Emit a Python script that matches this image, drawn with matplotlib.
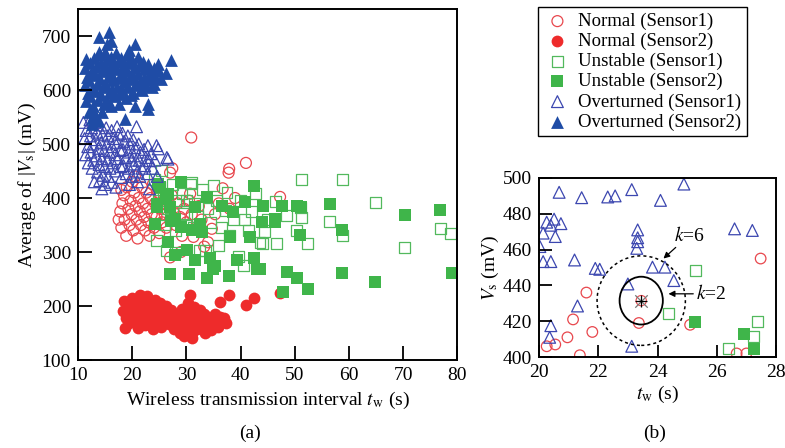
import matplotlib
matplotlib.use("Agg")
import matplotlib.pyplot as plt
from matplotlib.patches import Ellipse

plt.rcParams['font.family'] = ['Liberation Serif', 'DejaVu Serif']
plt.rcParams['mathtext.fontset'] = 'stix'

# ---- panel (a) data : (t_w [s], average |Vs| [mV]) ----
normal_s1 = [
    (17.5, 360), (17.8, 375), (18.0, 345), (18.2, 390), (18.5, 405), (18.6, 360), (18.9, 330),
    (19.0, 420), (19.3, 380), (19.5, 350), (19.7, 395), (19.9, 370), (20.0, 430), (20.2, 340),
    (20.4, 410), (20.6, 385), (20.8, 360), (21.0, 325), (21.2, 400), (21.4, 375), (21.6, 350),
    (21.8, 420), (22.0, 390), (22.2, 365), (22.4, 340), (22.6, 410), (22.8, 380), (23.0, 355),
    (23.2, 330), (23.4, 400), (23.6, 370), (23.8, 425), (24.0, 345), (24.2, 390), (24.5, 365),
    (24.8, 410), (25.0, 335), (25.2, 380), (25.5, 355), (25.8, 395), (26.0, 370), (26.3, 345),
    (26.6, 385), (27.0, 360), (27.3, 405), (27.6, 375), (28.0, 350), (28.4, 390), (28.8, 365),
    (29.2, 330), (29.6, 380), (30.0, 355), (30.5, 395), (31.0, 370), (31.3, 328), (31.8, 345),
    (32.3, 385), (32.8, 360), (33.3, 310), (34.0, 318), (34.7, 343), (35.3, 370), (36.0, 390),
    (36.7, 418), (38.0, 380), (39.0, 400), (27.0, 447), (27.4, 455), (30.9, 512),
    (37.9, 454), (41.0, 465), (37.8, 447), (47.3, 402), (30.7, 408), (29.0, 300), (20.5, 440),
    (18.0, 415), (27.0, 290),
]
normal_s2 = [
    (18.5, 210), (19.2, 200), (18.3, 190), (18.8, 178), (19.5, 168), (18.6, 160), (20.0, 215),
    (20.5, 205), (20.2, 192), (20.8, 182), (20.1, 172), (21.0, 160), (21.5, 220), (21.8, 208),
    (21.3, 196), (22.0, 185), (21.6, 175), (22.3, 165), (22.8, 218), (23.0, 203), (22.6, 192),
    (23.4, 180), (23.1, 170), (23.8, 158), (24.2, 212), (24.5, 198), (24.0, 188), (24.8, 176),
    (24.3, 166), (25.2, 206), (25.5, 192), (25.0, 182), (25.8, 172), (25.4, 162), (26.2, 200),
    (26.5, 186), (26.0, 176), (26.8, 166), (27.2, 192), (27.5, 180), (27.0, 170), (27.8, 158),
    (28.3, 186), (28.5, 172), (28.0, 162), (28.8, 150), (19.8, 186), (21.2, 188), (22.5, 178),
    (23.6, 195), (24.6, 185), (19.0, 205),
    (29.2, 195), (29.5, 180), (29.0, 170), (29.8, 158), (30.3, 205), (30.6, 188), (30.2, 175),
    (30.8, 163), (31.0, 150), (31.5, 198), (31.8, 183), (31.3, 170), (32.0, 158), (32.5, 192),
    (32.8, 178), (32.2, 165), (33.2, 186), (33.5, 172), (33.0, 160), (34.0, 180), (34.3, 168),
    (34.8, 175), (35.2, 185), (35.5, 172), (35.8, 162), (36.3, 180), (36.6, 170), (37.0, 178),
    (37.3, 168), (30.7, 220), (36.2, 207), (37.9, 220), (41.0, 201), (42.5, 214), (47.3, 224),
    (31.0, 140), (33.5, 150), (34.5, 155), (29.5, 145),
]
unstable_s1 = [
    (24.2, 435), (25.4, 451), (25.0, 420), (24.5, 321), (24.8, 395), (25.8, 408), (26.4, 303),
    (26.5, 380), (27.0, 362), (27.5, 425), (28.0, 340), (28.5, 395), (29.2, 408), (29.5, 372),
    (30.0, 350), (30.7, 426), (30.9, 429), (31.3, 346), (31.5, 390), (32.0, 365), (32.5, 303),
    (33.0, 415), (33.5, 303), (34.0, 380), (34.5, 355), (35.0, 423), (35.5, 395), (35.9, 312),
    (36.5, 345), (37.2, 377), (37.5, 410), (38.0, 330), (38.7, 361), (39.6, 291), (40.0, 395),
    (40.5, 275), (40.8, 361), (41.5, 340), (42.0, 375), (42.7, 408), (43.6, 318), (44.1, 315),
    (44.4, 337), (45.0, 360), (46.4, 394), (46.6, 315), (48.5, 368), (50.4, 340), (51.1, 383),
    (51.3, 435), (51.3, 364), (52.4, 315), (56.5, 357), (58.8, 434), (58.8, 331), (64.9, 392),
    (70.3, 308), (76.9, 344), (78.8, 335), (28.0, 300), (30.0, 395), (26.0, 350),
]
unstable_s2 = [
    (24.8, 426), (29.1, 429), (25.1, 420), (26.7, 408), (26.3, 398), (24.5, 389), (24.5, 383),
    (27.0, 383), (31.6, 383), (33.8, 401), (36.5, 386), (40.8, 392), (42.4, 423), (44.2, 386),
    (47.6, 386), (50.4, 386), (51.1, 383), (56.5, 389), (70.4, 368), (76.9, 377), (38.7, 374),
    (43.9, 355), (46.4, 355), (46.4, 361), (24.2, 352), (27.9, 361), (27.2, 358), (29.1, 346),
    (32.5, 352), (31.0, 340), (32.8, 337), (38.1, 328), (41.8, 328), (51.0, 331), (58.8, 340),
    (26.7, 318), (27.9, 294), (30.1, 303), (31.6, 285), (34.4, 288), (35.3, 275), (39.3, 285),
    (42.4, 288), (27.0, 260), (30.4, 260), (33.8, 251), (37.8, 255), (43.0, 269), (35.0, 269),
    (48.5, 263), (50.4, 251), (52.4, 232), (47.9, 226), (58.8, 262), (64.9, 244), (79.0, 261),
    (43.6, 268),
]
overturned_s1 = [
    (11.0, 540), (11.5, 525), (11.2, 510), (11.8, 495), (11.4, 480), (11.9, 465), (12.2, 545),
    (12.5, 530), (12.3, 515), (12.8, 500), (12.4, 485), (12.9, 470), (12.6, 455), (13.2, 540),
    (13.5, 522), (13.3, 508), (13.8, 492), (13.4, 478), (13.9, 462), (13.6, 448), (14.0, 432),
    (14.2, 535), (14.5, 518), (14.3, 503), (14.8, 488), (14.4, 473), (14.9, 458), (14.6, 442),
    (14.4, 417), (15.2, 530), (15.5, 515), (15.3, 500), (15.8, 485), (15.4, 470), (15.9, 455),
    (15.6, 440), (16.2, 429), (16.2, 525), (16.5, 510), (16.3, 495), (16.8, 480), (16.4, 465),
    (16.9, 450), (17.2, 532), (17.5, 518), (17.3, 503), (17.8, 488), (17.4, 473), (17.9, 458),
    (18.0, 438), (18.2, 520), (18.5, 505), (18.3, 490), (18.8, 475), (18.4, 460), (18.9, 445),
    (19.2, 515), (19.5, 500), (19.3, 485), (19.8, 470), (19.4, 455), (19.9, 440), (20.2, 508),
    (20.5, 493), (20.3, 478), (20.8, 532), (20.4, 463), (20.9, 448), (21.2, 500), (21.5, 485),
    (21.3, 470), (21.8, 455), (21.4, 440), (22.2, 490), (22.5, 475), (22.3, 460), (22.9, 497),
    (22.8, 445), (23.2, 469), (23.2, 417), (23.5, 482), (23.8, 455), (24.5, 497), (24.8, 491),
    (24.2, 470), (24.6, 440), (26.4, 475), (26.6, 472), (13.0, 430), (15.0, 425), (17.0, 420),
    (19.5, 425), (21.0, 430),
]
overturned_s2 = [
    (15.7, 708), (13.8, 698), (15.4, 686), (20.5, 686), (13.8, 671), (11.5, 657), (27.2, 655),
    (26.3, 632), (24.8, 648), (21.7, 602), (22.9, 565), (20.5, 571), (18.6, 546), (12.8, 561),
    (12.5, 549), (13.7, 543), (12.5, 537), (23.0, 575), (16.0, 690), (19.5, 675),
    (11.2, 640), (11.6, 625), (11.3, 610), (11.8, 595), (11.5, 580), (12.2, 650), (12.4, 632),
    (12.0, 618), (12.6, 602), (12.3, 588), (12.8, 570), (13.0, 660), (13.3, 642), (13.1, 628),
    (13.5, 612), (13.2, 598), (13.6, 582), (14.0, 665), (14.2, 650), (14.4, 636), (14.1, 620),
    (14.6, 605), (14.3, 590), (14.8, 575), (15.0, 670), (15.3, 655), (15.1, 640), (15.5, 625),
    (15.2, 610), (15.7, 595), (15.4, 580), (16.0, 662), (16.3, 648), (16.1, 632), (16.5, 618),
    (16.2, 602), (16.7, 588), (17.0, 668), (17.3, 652), (17.1, 638), (17.5, 622), (17.2, 606),
    (17.7, 592), (18.0, 660), (18.3, 645), (18.1, 630), (18.5, 615), (18.2, 600), (18.8, 585),
    (19.0, 665), (19.3, 650), (19.1, 635), (19.5, 620), (19.2, 605), (19.8, 590), (20.0, 655),
    (20.3, 640), (20.1, 625), (20.5, 610), (20.2, 595), (21.0, 662), (21.3, 645), (21.1, 630),
    (21.5, 615), (21.8, 600), (22.0, 652), (22.3, 638), (22.1, 622), (22.5, 608), (23.0, 648),
    (23.3, 632), (23.1, 618), (23.6, 605), (24.0, 640), (24.3, 625), (24.1, 612), (25.0, 635),
    (25.3, 620), (12.0, 560), (13.0, 555), (14.5, 560), (16.0, 570), (17.5, 575), (13.5, 548),
]

# ---- panel (b) data : zoom around the test point ----
zoom_normal_s1 = [(21.6, 436), (21.15, 421), (20.96, 411), (21.8, 414), (20.55, 407),
                  (20.26, 406), (23.37, 419), (25.1, 418), (27.48, 455), (21.38, 401),
                  (26.67, 402), (27.0, 402)]
zoom_unstable_s1 = [(25.27, 448.5), (24.38, 424.5), (27.38, 420), (27.25, 411.6), (26.39, 404.7)]
zoom_unstable_s2 = [(25.27, 419.3), (26.93, 413), (27.26, 404.3)]
zoom_overturned_s1 = [
    (20.68, 492), (21.44, 489), (22.32, 489.4), (22.57, 490), (23.13, 493.5), (24.1, 487.5),
    (24.89, 496.6), (20.26, 475.3), (20.51, 477), (20.4, 473.6), (20.74, 474.5), (20.14, 469.2),
    (20.55, 467.3), (20.03, 461.7), (20.14, 453.3), (20.4, 453.3), (21.2, 454.2), (21.9, 449.5),
    (22.05, 449), (23.33, 471), (23.33, 466.6), (23.33, 464.4), (23.3, 460.7), (23.83, 450.2),
    (24.25, 450.2), (24.55, 442.7), (23.0, 440.8), (21.3, 428.5), (20.4, 417.5), (20.36, 411),
    (23.13, 406), (26.6, 471.6), (27.2, 470.7),
]
test_point = (23.45, 431.5)
radius_k2 = (1.46, 26.7)   # ellipse width / height in data units
radius_k6 = (2.98, 50.0)

red = '#ee2b2b'
green = '#3fb54a'
blue = '#1f4ca6'
red_l = '#e8474d'
green_l = '#52b95d'
blue_l = '#3c47b0'

fig = plt.figure(figsize=(7.85, 4.48), dpi=100)
ax = fig.add_axes([0.0994, 0.1964, 0.483, 0.7835])
axb = fig.add_axes([0.6866, 0.2031, 0.302, 0.3996])


def xs(pts):
    return [p[0] for p in pts]


def ys(pts):
    return [p[1] for p in pts]


lw = 0.9
h1 = ax.scatter(xs(normal_s1), ys(normal_s1), s=62, marker='o', facecolors='none',
                edgecolors=red_l, linewidths=lw, label='Normal (Sensor1)')
h2 = ax.scatter(xs(normal_s2), ys(normal_s2), s=72, marker='o', color=red,
                linewidths=0, label='Normal (Sensor2)')
h3 = ax.scatter(xs(unstable_s1), ys(unstable_s1), s=62, marker='s', facecolors='none',
                edgecolors=green_l, linewidths=lw, label='Unstable (Sensor1)')
h4 = ax.scatter(xs(unstable_s2), ys(unstable_s2), s=68, marker='s', color=green,
                linewidths=0, label='Unstable (Sensor2)')
h5 = ax.scatter(xs(overturned_s1), ys(overturned_s1), s=72, marker='^', facecolors='none',
                edgecolors=blue_l, linewidths=lw, label='Overturned (Sensor1)')
h6 = ax.scatter(xs(overturned_s2), ys(overturned_s2), s=85, marker='^', color=blue,
                linewidths=0, label='Overturned (Sensor2)')

ax.set_xlim(10, 80)
ax.set_ylim(100, 750)
ax.set_xticks(range(10, 81, 10))
ax.set_yticks(range(100, 701, 100))
ax.set_xlabel('Wireless transmission interval $t_\\mathrm{w}$ (s)', fontsize=14, labelpad=4)
ax.set_ylabel('Average of |$V_\\mathrm{s}$| (mV)', fontsize=14, labelpad=3)

# panel (b)
axb.scatter(xs(zoom_normal_s1), ys(zoom_normal_s1), s=58, marker='o', facecolors='none',
            edgecolors=red_l, linewidths=lw)
axb.scatter(xs(zoom_unstable_s1), ys(zoom_unstable_s1), s=62, marker='s', facecolors='none',
            edgecolors=green_l, linewidths=lw)
axb.scatter(xs(zoom_unstable_s2), ys(zoom_unstable_s2), s=64, marker='s', color=green,
            linewidths=0)
axb.scatter(xs(zoom_overturned_s1), ys(zoom_overturned_s1), s=72, marker='^',
            facecolors='none', edgecolors=blue_l, linewidths=lw)
axb.add_patch(Ellipse(test_point, radius_k2[0], radius_k2[1], fill=False,
                      edgecolor='black', linewidth=1.3))
axb.add_patch(Ellipse(test_point, radius_k6[0], radius_k6[1], fill=False,
                      edgecolor='black', linewidth=1.1, linestyle=(0, (2, 2))))
axb.scatter([test_point[0]], [test_point[1]], s=55, marker='o', facecolors='none',
            edgecolors=red_l, linewidths=0.8)
axb.scatter([test_point[0]], [test_point[1]], s=80, marker='x', color='#777777',
            linewidths=0.9)
axb.scatter([test_point[0]], [test_point[1]], s=80, marker='+', color='black',
            linewidths=0.9)
axb.annotate('$k$=6', xy=(24.2, 455), xytext=(24.55, 465), fontsize=14,
             arrowprops=dict(arrowstyle='-|>', color='black', lw=0.9,
                             mutation_scale=9, shrinkA=0, shrinkB=0))
axb.annotate('$k$=2', xy=(24.37, 435.3), xytext=(25.3, 435.3), fontsize=14,
             va='center',
             arrowprops=dict(arrowstyle='-|>', color='black', lw=0.9,
                             mutation_scale=9, shrinkA=0, shrinkB=0))
axb.set_xlim(20, 28)
axb.set_ylim(400, 500)
axb.set_xticks(range(20, 29, 2))
axb.set_yticks(range(400, 501, 20))
axb.set_xlabel('$t_\\mathrm{w}$ (s)', fontsize=14, labelpad=2)
axb.set_ylabel('$V_\\mathrm{s}$ (mV)', fontsize=14, labelpad=1)

for a, ln in ((ax, 10), (axb, 9)):
    a.tick_params(direction='in', length=ln, width=1.3, labelsize=14, pad=5,
                  top=False, right=False)
    for sp in a.spines.values():
        sp.set_linewidth(1.4)

fig.legend(handles=[h1, h2, h3, h4, h5, h6], loc='upper left',
           bbox_to_anchor=(0.685, 0.984), fontsize=13.5, frameon=True, fancybox=False,
           edgecolor='black', framealpha=1, borderpad=0.3, labelspacing=0.15,
           handletextpad=0.35, handlelength=1.5, borderaxespad=0)

fig.text(0.318, 0.033, '(a)', fontsize=14, ha='center', va='center')
fig.text(0.834, 0.033, '(b)', fontsize=14, ha='center', va='center')

fig.savefig('out.png', dpi=100)
